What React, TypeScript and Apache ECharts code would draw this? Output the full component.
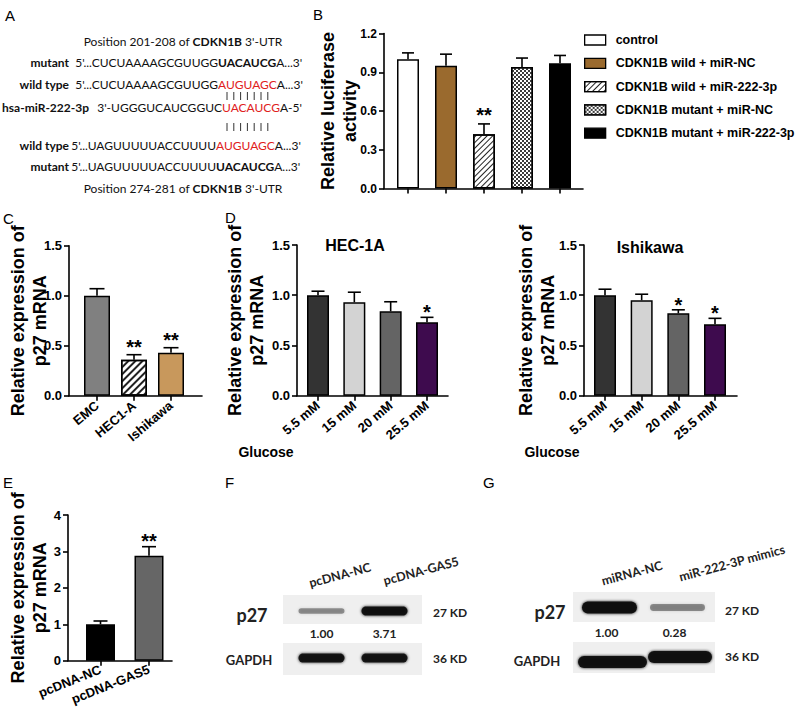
import React, { useEffect, useRef } from "react";
import * as echarts from "echarts";

const ARIAL = "'Liberation Sans', Arial, Helvetica, sans-serif";
const CALIBRI = "Lato, Carlito, 'Open Sans', sans-serif";

// ---------------- data ----------------
// Panel A: sequence alignment
const aRowLabels = ["mutant", "wild type", "hsa-miR-222-3p", "wild type", "mutant"];
const aRowPrefix = ["5'...CUCUAAAAGCGUUGG", "5'...CUCUAAAAGCGUUGG", "3'-UGGGUCAUCGGUC", "5'...UAGUUUUUACCUUUU", "5'...UAGUUUUUACCUUUU"];
const aRowMotif = ["UACAUCG", "AUGUAGC", "UACAUCG", "AUGUAGC", "UACAUCG"];
const aRowMotifKind = ["b", "r", "r", "r", "b"];
const aRowSuffix = ["A...3'", "A...3'", "A-5'", "A...3'", "A...3'"];
const aCaptionTop = ["Position 201-208 of ", "CDKN1B", " 3'-UTR"];
const aCaptionBottom = ["Position 274-281 of ", "CDKN1B", " 3'-UTR"];

// Panel B: luciferase
const bGroups = ["control", "CDKN1B wild + miR-NC", "CDKN1B wild + miR-222-3p", "CDKN1B mutant + miR-NC", "CDKN1B mutant + miR-222-3p"];
const bMeans = [1.0, 0.95, 0.42, 0.94, 0.97];
const bErrors = [0.05, 0.09, 0.08, 0.07, 0.06];
const bStars = ["", "", "**", "", ""];

// Panel C
const cCells = ["EMC", "HEC1-A", "Ishikawa"];
const cMeans = [1.0, 0.36, 0.43];
const cErrors = [0.07, 0.05, 0.05];
const cStars = ["", "**", "**"];

// Panel D
const dGlucose = ["5.5 mM", "15 mM", "20 mM", "25.5 mM"];
const dHecMeans = [1.0, 0.93, 0.84, 0.73];
const dHecErrors = [0.04, 0.1, 0.095, 0.05];
const dHecStars = ["", "", "", "*"];
const dIshMeans = [1.0, 0.95, 0.82, 0.71];
const dIshErrors = [0.06, 0.06, 0.035, 0.06];
const dIshStars = ["", "", "*", "*"];

// Panel E
const eGroups = ["pcDNA-NC", "pcDNA-GAS5"];
const eMeans = [1.0, 2.88];
const eErrors = [0.09, 0.25];
const eStars = ["", "**"];

// Panels F, G: western blots
const fLanes = ["pcDNA-NC", "pcDNA-GAS5"];
const fP27 = [1.0, 3.71];
const gLanes = ["miRNA-NC", "miR-222-3P mimics"];
const gP27 = [1.0, 0.28];

// ---------------- styles ----------------
const HATCH = { symbol: "rect", symbolSize: 1, color: "#222", dashArrayX: [1, 0], dashArrayY: [1, 2.2], rotation: -Math.PI / 4 };
const HATCH_C = { symbol: "rect", symbolSize: 1, color: "#222", dashArrayX: [1, 0], dashArrayY: [1.2, 3], rotation: -Math.PI / 4 };
const CHECK = { symbol: "rect", symbolSize: 1, color: "#3c3c3c", dashArrayX: [[1.5, 1.5], [0, 1.5, 1.5, 0]], dashArrayY: [1.5, 0] };

const bColors = ["#ffffff", "#9a6a2e", "#ffffff", "#ffffff", "#000000"];
const bDecals = [null, null, HATCH, CHECK, null];
const cColors = ["#808080", "#ffffff", "#c8985c"];
const cDecals = [null, HATCH_C, null];
const dColors = ["#333333", "#d3d3d3", "#646464", "#3e0b4e"];
const eColors = ["#000000", "#666666"];

interface PanelCfg {
  cats: string[]; means: number[]; errors: number[]; stars: string[];
  colors: string[]; decals: any[]; split?: boolean;
  left: number; top: number; width: number; height: number; gapL: number; gapR: number;
  ymax: number; interval: number; digits: number;
  barWidth: number; cap: number; starDy: number;
  rotate: number; showX: boolean; yName: string; nameGap: number; ySize: number;
}

const EXPR = "Relative expression of\np27 mRNA";

const panels: PanelCfg[] = [
  { cats: bGroups, means: bMeans, errors: bErrors, stars: bStars, colors: bColors, decals: bDecals, split: true,
    left: 384, top: 33.5, width: 199, height: 155, gapL: 24, gapR: 23, ymax: 1.2, interval: 0.3, digits: 1,
    barWidth: 22, cap: 6, starDy: 9, rotate: 0, showX: false, yName: "Relative luciferase\nactivity", nameGap: 23, ySize: 12 },
  { cats: cCells, means: cMeans, errors: cErrors, stars: cStars, colors: cColors, decals: cDecals,
    left: 69, top: 245.7, width: 133, height: 150, gapL: 28, gapR: 31, ymax: 1.5, interval: 0.5, digits: 1,
    barWidth: 26, cap: 7.5, starDy: 8, rotate: 40, showX: true, yName: EXPR, nameGap: 18, ySize: 13 },
  { cats: dGlucose, means: dHecMeans, errors: dHecErrors, stars: dHecStars, colors: dColors, decals: [null, null, null, null],
    left: 297, top: 245, width: 151, height: 150.7, gapL: 21, gapR: 21, ymax: 1.5, interval: 0.5, digits: 1,
    barWidth: 22, cap: 6.5, starDy: 5, rotate: 40, showX: true, yName: EXPR, nameGap: 29, ySize: 13 },
  { cats: dGlucose, means: dIshMeans, errors: dIshErrors, stars: dIshStars, colors: dColors, decals: [null, null, null, null],
    left: 584, top: 245, width: 153, height: 150.7, gapL: 21, gapR: 22, ymax: 1.5, interval: 0.5, digits: 1,
    barWidth: 22, cap: 6.5, starDy: 5, rotate: 40, showX: true, yName: EXPR, nameGap: 25, ySize: 13 },
  { cats: eGroups, means: eMeans, errors: eErrors, stars: eStars, colors: eColors, decals: [null, null],
    left: 68, top: 515, width: 104, height: 145.7, gapL: 32.5, gapR: 23, ymax: 4, interval: 1, digits: 0,
    barWidth: 29, cap: 7, starDy: 6, rotate: 22, showX: true, yName: EXPR, nameGap: 17, ySize: 13 },
];

function errorBars(stars: string[], cap: number, starDy: number) {
  return (params: any, api: any) => {
    const x = api.value(0), m = api.value(1), e = api.value(2);
    const a = api.coord([x, m]);
    const b = api.coord([x, m + e]);
    const ls = { stroke: "#000", lineWidth: 1.6 };
    const children: any[] = [
      { type: "line", shape: { x1: a[0], y1: a[1], x2: b[0], y2: b[1] }, style: ls },
      { type: "line", shape: { x1: b[0] - cap, y1: b[1], x2: b[0] + cap, y2: b[1] }, style: ls },
    ];
    const s = stars[params.dataIndex];
    if (s) {
      children.push({
        type: "text", x: b[0], y: b[1] - starDy,
        style: { text: s, fill: "#000", fontSize: 20, fontWeight: "bold", fontFamily: ARIAL, align: "center", verticalAlign: "middle" },
      });
    }
    return { type: "group", children };
  };
}

function txt(text: string, x: number, y: number, size: number, opts: any = {}) {
  return {
    type: "text", x, y, rotation: opts.rotation || 0, silent: true,
    style: {
      text, fill: opts.color || "#000", fontSize: size, fontWeight: opts.weight || "normal",
      fontFamily: opts.family || ARIAL,
      align: opts.align || "left", textAlign: opts.align || "left",
      verticalAlign: "middle", textVerticalAlign: "middle",
    },
  };
}

function buildOption() {
  const grid: any[] = [], xAxis: any[] = [], yAxis: any[] = [], series: any[] = [];
  panels.forEach((p, gi) => {
    const n = p.cats.length;
    const s = (p.width - p.gapL - p.gapR) / (n - 1);
    const xmin = 1 - p.gapL / s;
    const xmax = n + p.gapR / s;
    const pos = p.cats.map((_, i) => i + 1);
    grid.push({ left: p.left, top: p.top, width: p.width, height: p.height, containLabel: false, outerBoundsMode: "none" });
    xAxis.push({
      gridIndex: gi, type: "value", min: xmin, max: xmax, splitLine: { show: false },
      axisLine: { show: true, onZero: false, lineStyle: { color: "#000", width: 1.6 } },
      axisTick: { show: true, customValues: pos, length: 5, lineStyle: { color: "#000", width: 1.6 } },
      axisLabel: {
        show: p.showX, customValues: pos, rotate: p.rotate, margin: 8, color: "#000",
        fontWeight: "bold", fontSize: 13, fontFamily: ARIAL,
        formatter: (v: number) => p.cats[Math.round(v) - 1] ?? "",
      },
    });
    yAxis.push({
      gridIndex: gi, type: "value", min: 0, max: p.ymax, interval: p.interval, splitLine: { show: false },
      axisLine: { show: true, onZero: false, lineStyle: { color: "#000", width: 1.6 } },
      axisTick: { show: true, length: 5, lineStyle: { color: "#000", width: 1.6 } },
      axisLabel: { margin: 7, color: "#000", fontWeight: "bold", fontSize: p.ySize, fontFamily: ARIAL,
        formatter: (v: number) => v.toFixed(p.digits) },
      name: p.yName, nameLocation: "middle", nameRotate: 90, nameGap: p.nameGap, nameMoveOverlap: false,
      nameTextStyle: { color: "#000", fontWeight: "bold", fontSize: 18, lineHeight: 22, fontFamily: ARIAL },
    });
    if (p.split) {
      p.means.forEach((m, i) => {
        const itemStyle: any = { color: p.colors[i], borderColor: "#000", borderWidth: 1.5 };
        if (p.decals[i]) itemStyle.decal = p.decals[i];
        series.push({ type: "bar", name: p.cats[i], xAxisIndex: gi, yAxisIndex: gi, data: [[i + 1, m]],
          barWidth: p.barWidth, barGap: "-100%", itemStyle, silent: true });
      });
    } else {
      series.push({
        type: "bar", name: "panel" + gi, xAxisIndex: gi, yAxisIndex: gi, barWidth: p.barWidth, silent: true,
        itemStyle: { borderColor: "#000", borderWidth: 1.5 },
        data: p.means.map((m, i) => {
          const itemStyle: any = { color: p.colors[i] };
          if (p.decals[i]) itemStyle.decal = p.decals[i];
          return { value: [i + 1, m], itemStyle };
        }),
      });
    }
    series.push({
      type: "custom", name: "err" + gi, xAxisIndex: gi, yAxisIndex: gi, z: 5, silent: true,
      data: p.means.map((m, i) => [i + 1, m, p.errors[i]]),
      renderItem: errorBars(p.stars, p.cap, p.starDy),
    });
  });

  const graphic: any[] = [];
  // panel letters
  const letters: [string, number, number][] = [["A", 5, 15], ["B", 313, 14], ["C", 3, 218], ["D", 225, 217], ["E", 3, 482], ["F", 225, 482], ["G", 483, 482]];
  letters.forEach(([l, x, y]) => graphic.push(txt(l, x, y, 15)));

  // ---- panel A ----
  const rowY = [62, 84, 107, 145, 166];
  const labelRight = [69, 69, 89, 69, 69];
  const motifX = [218, 218, 222, 216, 216];
  const richBase = { fontSize: 12, fontFamily: CALIBRI };
  const rich = {
    b: { ...richBase, fontWeight: "bold", fill: "#111" },
    r: { ...richBase, fontWeight: "normal", fill: "#e0201c" },
    n: { ...richBase, fontWeight: "normal", fill: "#111" },
  };
  aRowLabels.forEach((lab, i) => {
    graphic.push(txt(lab, labelRight[i], rowY[i], 12, { align: "right", weight: "bold", family: CALIBRI, color: "#111" }));
    graphic.push(txt(aRowPrefix[i], motifX[i], rowY[i], 12, { align: "right", family: CALIBRI, color: "#111" }));
    graphic.push({
      type: "text", x: motifX[i], y: rowY[i], silent: true,
      style: {
        text: `{${aRowMotifKind[i]}|${aRowMotif[i]}}{n|${aRowSuffix[i]}}`, rich,
        fontSize: 12, fontFamily: CALIBRI, fill: "#111",
        align: "left", textAlign: "left", verticalAlign: "middle", textVerticalAlign: "middle",
      },
    });
  });
  [96, 127].forEach((py) => {
    for (let k = 0; k < 7; k++) {
      const px = 227 + k * 6.8;
      graphic.push({ type: "line", silent: true, shape: { x1: px, y1: py - 4, x2: px, y2: py + 4 }, style: { stroke: "#333", lineWidth: 1 } });
    }
  });
  [[aCaptionTop, 41], [aCaptionBottom, 188]].forEach(([cap, y]: any) => {
    graphic.push({
      type: "text", x: 183, y, silent: true,
      style: {
        text: `{n|${cap[0]}}{b|${cap[1]}}{n|${cap[2]}}`, rich,
        fontSize: 12, fontFamily: CALIBRI, fill: "#111",
        align: "center", textAlign: "center", verticalAlign: "middle", textVerticalAlign: "middle",
      },
    });
  });

  // ---- panel D extra texts ----
  graphic.push(txt("HEC-1A", 355, 245, 16, { align: "center", weight: "bold" }));
  graphic.push(txt("Ishikawa", 650, 247, 16, { align: "center", weight: "bold" }));
  graphic.push(txt("Glucose", 266, 452, 14, { align: "center", weight: "bold" }));
  graphic.push(txt("Glucose", 552, 452, 14, { align: "center", weight: "bold" }));

  // ---- blots ----
  const band = (cx: number, cy: number, w: number, h: number, alpha: number) => ({
    type: "rect", silent: true,
    shape: { x: cx - w / 2, y: cy - h / 2, width: w, height: h, r: h / 2 },
    style: { fill: `rgba(15,15,15,${alpha})`, shadowBlur: 3, shadowColor: `rgba(0,0,0,${alpha})` },
  });
  const membrane = (x: number, y: number, w: number, h: number) => ({
    type: "rect", silent: true, shape: { x, y, width: w, height: h },
    style: { fill: "#efefef" },
  });

  // panel F
  const fMax = Math.max(...fP27);
  graphic.push(membrane(283, 595, 139, 29));
  graphic.push(membrane(283, 643, 139, 32));
  const fCx = [321.5, 384.5];
  fP27.forEach((v, i) => {
    const r = v / fMax;
    graphic.push(band(fCx[i], 611, 46, 4 + 5 * r, 0.15 + 0.8 * r));
    graphic.push(band(fCx[i], 658, 46, 9, 0.92));
    graphic.push(txt(v.toFixed(2), fCx[i], 633, 12, { align: "center", weight: "bold", family: CALIBRI, color: "#222" }));
  });
  graphic.push(txt(fLanes[0], 340, 575, 12.5, { align: "center", weight: "bold", family: CALIBRI, rotation: (15 * Math.PI) / 180, color: "#222" }));
  graphic.push(txt(fLanes[1], 421, 571, 12.5, { align: "center", weight: "bold", family: CALIBRI, rotation: (15 * Math.PI) / 180, color: "#222" }));
  graphic.push(txt("p27", 252, 615, 18, { align: "center", weight: "bold", family: CALIBRI, color: "#222" }));
  graphic.push(txt("GAPDH", 249, 660, 13, { align: "center", weight: "bold", family: CALIBRI, color: "#222" }));
  graphic.push(txt("27 KD", 433, 612, 12, { weight: "bold", family: CALIBRI, color: "#222" }));
  graphic.push(txt("36 KD", 433, 658, 12, { weight: "bold", family: CALIBRI, color: "#222" }));

  // panel G
  const gMax = Math.max(...gP27);
  graphic.push(membrane(573, 592, 142, 30));
  graphic.push(membrane(573, 642, 142, 31));
  const gCx = [609.5, 677.5];
  gP27.forEach((v, i) => {
    const r = v / gMax;
    graphic.push(band(gCx[i], 607.5, 55, 5 + 7 * r, 0.15 + 0.82 * r));
    graphic.push(txt(v.toFixed(2), gCx[i] - 3, 632, 12, { align: "center", weight: "bold", family: CALIBRI, color: "#222" }));
  });
  graphic.push(band(612.5, 662, 69, 12, 0.95));
  graphic.push(band(680, 657, 64, 12, 0.95));
  graphic.push(txt(gLanes[0], 632, 573, 12.5, { align: "center", weight: "bold", family: CALIBRI, rotation: (15 * Math.PI) / 180, color: "#222" }));
  graphic.push(txt(gLanes[1], 732, 563, 12.5, { align: "center", weight: "bold", family: CALIBRI, rotation: (15 * Math.PI) / 180, color: "#222" }));
  graphic.push(txt("p27", 550, 612, 18, { align: "center", weight: "bold", family: CALIBRI, color: "#222" }));
  graphic.push(txt("GAPDH", 537, 661, 13, { align: "center", weight: "bold", family: CALIBRI, color: "#222" }));
  graphic.push(txt("27 KD", 725, 610, 12, { weight: "bold", family: CALIBRI, color: "#222" }));
  graphic.push(txt("36 KD", 725, 656, 12, { weight: "bold", family: CALIBRI, color: "#222" }));

  return {
    animation: false,
    backgroundColor: "#ffffff",
    textStyle: { fontFamily: ARIAL },
    grid, xAxis, yAxis, series, graphic,
    legend: {
      orient: "vertical", left: 584, top: 33, padding: 0, itemWidth: 21, itemHeight: 10, itemGap: 9.3,
      selectedMode: false, icon: "rect",
      textStyle: { color: "#000", fontWeight: "bold", fontSize: 12.5, fontFamily: ARIAL, lineHeight: 14, padding: [0, 0, 0, 5] },
      data: bGroups.map((name) => ({ name, itemStyle: { borderColor: "#000", borderWidth: 1.3 } })),
    },
  };
}

export default function App() {
  const ref = useRef<HTMLDivElement>(null);
  useEffect(() => {
    const chart = echarts.init(ref.current!, undefined, { renderer: "svg" });
    chart.setOption(buildOption() as any);
    return () => chart.dispose();
  }, []);
  return <div ref={ref} style={{ position: "absolute", left: 0, top: 0, width: 800, height: 724, background: "#fff" }} />;
}
